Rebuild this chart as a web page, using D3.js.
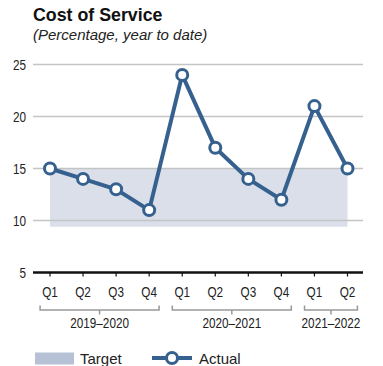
<!DOCTYPE html>
<html>
<head>
<meta charset="utf-8">
<script src="https://cdn.jsdelivr.net/npm/d3@7"></script>
<style>
  body { margin: 0; background: #fff; }
  .tick-label { font-family: "Liberation Sans", Arial, sans-serif; font-size: 14px; fill: #222; }
</style>
</head>
<body>
<svg id="chart" width="383" height="366"></svg>
<script>
// chart data
var quarters = ["Q1", "Q2", "Q3", "Q4", "Q1", "Q2", "Q3", "Q4", "Q1", "Q2"];
var actual = [15, 14, 13, 11, 24, 17, 14, 12, 21, 15];
var targetRange = [9.4, 15];
var years = ["2019–2020", "2020–2021", "2021–2022"];
var yearSpans = [[0, 3], [4, 7], [8, 9]];
var yTicks = [5, 10, 15, 20, 25];

var svg = d3.select("#chart");
var lineColor = "#36618e";
var narrow = 0.84; // condensed look for the axis labels

var x = d3.scaleLinear().domain([0, quarters.length - 1]).range([50, 347.5]);
var y = d3.scaleLinear().domain([5, 25]).range([272.5, 64.5]);

function label(px, py, txt, anchor) {
    return svg.append("text").attr("class", "tick-label")
        .attr("transform", "translate(" + px + "," + py + ") scale(" + narrow + ",1)")
        .attr("text-anchor", anchor)
        .text(txt);
}

// title
svg.append("text").attr("x", 33).attr("y", 21)
    .style("font-family", "Liberation Sans, Arial, sans-serif")
    .style("font-weight", "bold").style("font-size", "17.8px").style("fill", "#111")
    .text("Cost of Service");
svg.append("text").attr("x", 33).attr("y", 40)
    .style("font-family", "Liberation Sans, Arial, sans-serif")
    .style("font-style", "italic").style("font-size", "15px").style("fill", "#222")
    .text("(Percentage, year to date)");

// target band
svg.append("rect")
    .attr("x", x(0)).attr("width", x(quarters.length - 1) - x(0))
    .attr("y", y(targetRange[1])).attr("height", y(targetRange[0]) - y(targetRange[1]))
    .attr("fill", "#dadfea");

// gridlines
svg.selectAll(".grid").data(yTicks.slice(1)).enter().append("line")
    .attr("x1", 33).attr("x2", 363)
    .attr("y1", function (d) { return y(d); }).attr("y2", function (d) { return y(d); })
    .attr("stroke", "#c4c4c4").attr("stroke-width", 1.5);

// y labels
yTicks.forEach(function (d) {
    label(26, y(d) + 5, d, "end");
});

// x axis
svg.append("line").attr("x1", 33).attr("x2", 363)
    .attr("y1", y(5)).attr("y2", y(5))
    .attr("stroke", "#111").attr("stroke-width", 2.5);
svg.selectAll(".xtick").data(quarters).enter().append("line")
    .attr("x1", function (d, i) { return x(i); }).attr("x2", function (d, i) { return x(i); })
    .attr("y1", y(5)).attr("y2", y(5) + 4)
    .attr("stroke", "#111").attr("stroke-width", 1.2);
quarters.forEach(function (q, i) {
    label(x(i), 297, q, "middle");
});

// year brackets
var step = x(1) - x(0);
yearSpans.forEach(function (s, i) {
    var x0 = x(s[0]) - step * 0.3, x1 = x(s[1]) + step * 0.3, mid = (x0 + x1) / 2;
    svg.append("path")
        .attr("d", "M" + x0 + ",305.5V310H" + x1 + "V305.5M" + mid + ",310V314.5")
        .attr("fill", "none").attr("stroke", "#999").attr("stroke-width", 1.5);
    label(mid, 328, years[i], "middle");
});

// actual line
var line = d3.line().x(function (d, i) { return x(i); }).y(function (d) { return y(d); });
svg.append("path").datum(actual).attr("d", line)
    .attr("fill", "none").attr("stroke", lineColor).attr("stroke-width", 4);
svg.selectAll(".pt").data(actual).enter().append("circle")
    .attr("cx", function (d, i) { return x(i); }).attr("cy", function (d) { return y(d); })
    .attr("r", 5.5).attr("fill", "#fff").attr("stroke", lineColor).attr("stroke-width", 3);

// legend
svg.append("rect").attr("x", 35).attr("y", 352.5).attr("width", 39).attr("height", 12)
    .attr("fill", "#b6c1d6");
svg.append("text").attr("x", 80).attr("y", 364)
    .style("font-family", "Liberation Sans, Arial, sans-serif").style("font-size", "15px").style("fill", "#222")
    .text("Target");
svg.append("line").attr("x1", 152).attr("x2", 192).attr("y1", 358).attr("y2", 358)
    .attr("stroke", lineColor).attr("stroke-width", 4);
svg.append("circle").attr("cx", 172).attr("cy", 358).attr("r", 5.5)
    .attr("fill", "#fff").attr("stroke", lineColor).attr("stroke-width", 3);
svg.append("text").attr("x", 199).attr("y", 364)
    .style("font-family", "Liberation Sans, Arial, sans-serif").style("font-size", "15px").style("fill", "#222")
    .text("Actual");
</script>
</body>
</html>
